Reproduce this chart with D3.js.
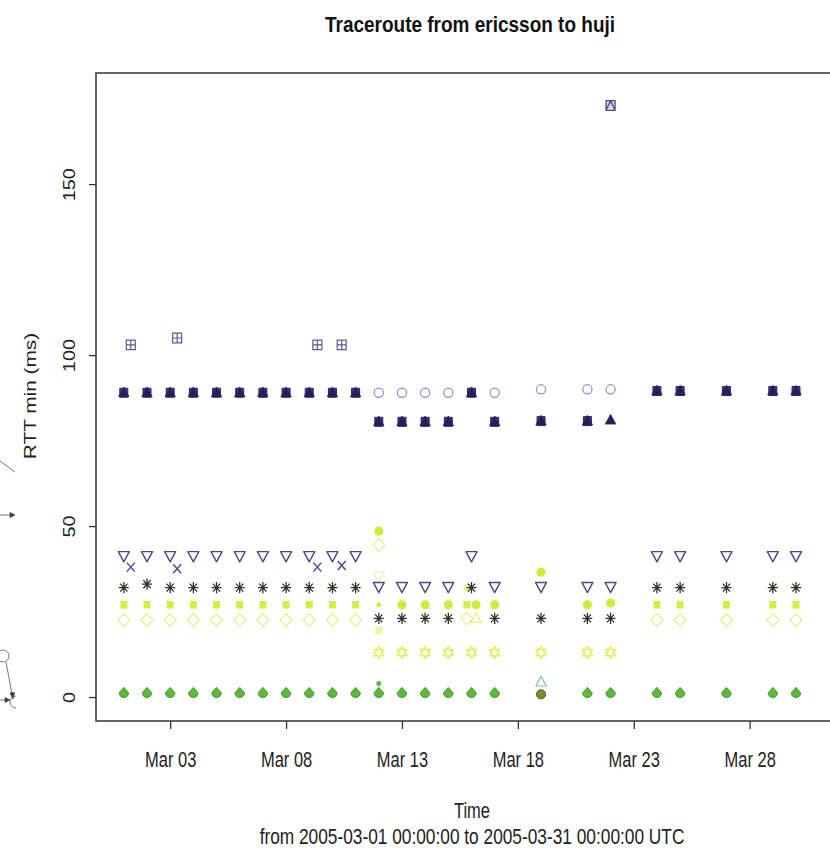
<!doctype html>
<html lang="en">
<head>
<meta charset="UTF-8">
<title>Traceroute from ericsson to huji</title>
<script src="https://d3js.org/d3.v7.min.js"></script>
<style>
  body { margin: 0; padding: 0; background: #fff; }
  svg { display: block; font-family: "Liberation Sans", Arial, sans-serif; }
  .tick text { fill: #222; }
  .tick line { stroke: #333; stroke-width: 1.3; }
</style>
</head>
<body>
<div id="chart"></div>
<script>
// ---- data (day of March 2005, RTT min in ms) ----
const days = [1, 2, 3, 4, 5, 6, 7, 8, 9, 10, 11, 12, 13, 14, 15, 16, 17, 19, 21, 22, 24, 25, 27, 29, 30];

const navySquare   = [89, 89, 89, 89, 89, 89, 89, 89, 89, 89, 89, 80.5, 80.5, 80.5, 80.5, 89, 80.5, 80.7, 80.7, null, 89.5, 89.5, 89.5, 89.5, 89.5];
const navyTriangle = [89, 89, 89, 89, 89, 89, 89, 89, 89, 89, 89, 80.5, 80.5, 80.5, 80.5, 89, 80.5, 80.7, 80.7, 81, 89.5, 89.5, 89.5, 89.5, 89.5];
const lavCircle    = [null, null, null, null, null, null, null, null, null, null, null, 89, 89, 89, 89, null, 89, 90, 90, 90, null, null, null, null, null];
const downTri      = [41, 41, 41, 41, 41, 41, 41, 41, 41, 41, 41, 32, 32, 32, 32, 41, 32, 32, 32, 32, 41, 41, 41, 41, 41];
const asterisk     = [32, 33, 32, 32, 32, 32, 32, 32, 32, 32, 32, 23, 23, 23, 23, 32, 23, 23, 23, 23, 32, 32, 32, 32, 32];
const hourglass    = [null, null, null, null, null, null, null, null, null, null, null, 13, 13, 13, 13, 13, 13, 13, 13, 13, null, null, null, null, null];
const greenCircle  = [0.8, 0.8, 0.8, 0.8, 0.8, 0.8, 0.8, 0.8, 0.8, 0.8, 0.8, 0.8, 0.8, 0.8, 0.8, 0.8, 0.8, null, 0.8, 0.8, 0.8, 0.8, 0.8, 0.8, 0.8];

// samples that sit between the daily columns: [day, value]
const ygSquare  = [[1, 27], [2, 27], [3, 27], [4, 27], [5, 27], [6, 27], [7, 27], [8, 27], [9, 27], [10, 27], [11, 27],
                   [15.8, 27], [24, 27], [25, 27], [27, 27], [29, 27], [30, 27]];
const ygCircle  = [[12, 48.5], [13, 27], [14, 27], [15, 27], [16.2, 27], [17, 27], [19, 36.5], [21, 27], [22, 27.5]];
const ygDot     = [[12, 27]];
const paleDiamond = [[1, 22.5], [2, 22.5], [3, 22.5], [4, 22.5], [5, 22.5], [6, 22.5], [7, 22.5], [8, 22.5], [9, 22.5], [10, 22.5], [11, 22.5],
                     [12, 44.5], [15.8, 23], [24, 22.5], [25, 22.5], [27, 22.5], [29, 22.5], [30, 22.5]];
const paleTriUp   = [[16.2, 23]];
const paleTriDown = [[12, 35]];
const paleSquare  = [[12, 19.5], [15.8, 32]];
const sqPlus      = [[1.3, 103], [3.3, 105], [9.35, 103], [10.4, 103]];
const crossX      = [[1.3, 38], [3.3, 37.5], [9.35, 38], [10.4, 38.5]];
const sqTriOpen   = [[22, 173]];
const greenDot    = [[12, 4]];
const tealTriUp   = [[19, 4.4]];
const oliveCircle = [[19, 0.8]];

const xTicks = [3, 8, 13, 18, 23, 28];
const yTicks = [0, 50, 100, 150];

// ---- layout ----
const width = 830, height = 848;
const plot = { left: 96, right: 847, top: 73, bottom: 721 };
const stretch = 1.3;   // the picture's lettering is taller than it is wide

const toDate = (d) => new Date(Date.UTC(2005, 2, 1) + (d - 1) * 864e5);

const x = d3.scaleUtc()
  .domain([toDate(1 - 1.2), toDate(31 + 1.2)])
  .range([plot.left, plot.right]);

const y = d3.scaleLinear()
  .domain([-7, 182.5])
  .range([plot.bottom, plot.top]);

const svg = d3.select('#chart').append('svg')
  .attr('width', width)
  .attr('height', height);

// symbol shapes, roughly R's pch set
const circlePath = (r) => 'M' + r + ',0A' + r + ',' + r + ' 0 1,1 ' + (-r) + ',0A' + r + ',' + r + ' 0 1,1 ' + r + ',0Z';
const shapes = {
  square: 'M-4,-4.5H4V4.5H-4Z',
  smallSquare: 'M-3.5,-3.8H3.5V3.8H-3.5Z',
  triUp: 'M0,-5.8L5.2,4H-5.2Z',
  triDown: 'M0,5L-5.5,-5.2H5.5Z',
  circle: circlePath(4.6),
  dot: circlePath(2.5),
  diamond: 'M0,-6.5L6,0L0,6.5L-6,0Z',
  cross: 'M-4,-4.5L4,4.5M4,-4.5L-4,4.5',
  asterisk: 'M-5,0H5M0,-5.6V5.6M-3.6,-4L3.6,4M3.6,-4L-3.6,4',
  sqPlus: 'M-4.5,-4.8H4.5V4.8H-4.5ZM0,-4.8V4.8M-4.5,0H4.5',
  sqTri: 'M-4.5,-4.8H4.5V4.8H-4.5ZM0,-4.8L4.5,4.8H-4.5Z',
  david: 'M0,-6.2L5.2,3.2H-5.2ZM0,6.2L-5.2,-3.2H5.2Z',
  greenDrop: 'M0,-7L4.8,-1.5A4.8,4.8 0 1,1 -4.8,-1.5Z'
};

const aligned = (vals) => days.map((d, i) => [d, vals[i]]).filter((p) => p[1] != null);

// draw order follows the hops, navy on top
const layers = [
  { data: aligned(greenCircle), shape: 'greenDrop', fill: '#5db83b', stroke: '#3d8c2a', sw: 0.8 },
  { data: oliveCircle, shape: 'circle', fill: '#7d8a38', stroke: '#5b5f2a', sw: 1 },
  { data: greenDot, shape: 'dot', fill: '#5db83b', stroke: 'none' },
  { data: tealTriUp, shape: 'triUp', fill: 'none', stroke: '#7cc6a4', sw: 1.2 },
  { data: aligned(hourglass), shape: 'david', fill: 'none', stroke: '#e0ef5e', sw: 1.3 },
  { data: paleDiamond, shape: 'diamond', fill: 'none', stroke: '#e3ef8c', sw: 1.3 },
  { data: paleTriUp, shape: 'triUp', fill: 'none', stroke: '#e3ef8c', sw: 1.3 },
  { data: paleTriDown, shape: 'triDown', fill: 'none', stroke: '#ecf3b0', sw: 1.2 },
  { data: paleSquare, shape: 'smallSquare', fill: '#eef5a8', stroke: 'none' },
  { data: ygSquare, shape: 'smallSquare', fill: '#d6ee44', stroke: 'none' },
  { data: ygCircle, shape: 'circle', fill: '#cfec3c', stroke: 'none' },
  { data: ygDot, shape: 'dot', fill: '#cfec3c', stroke: 'none' },
  { data: aligned(asterisk), shape: 'asterisk', fill: 'none', stroke: '#2c3328', sw: 1.3 },
  { data: aligned(downTri), shape: 'triDown', fill: 'none', stroke: '#4b4882', sw: 1.4 },
  { data: crossX, shape: 'cross', fill: 'none', stroke: '#474585', sw: 1.4 },
  { data: sqPlus, shape: 'sqPlus', fill: 'none', stroke: '#5c5a98', sw: 1.2 },
  { data: sqTriOpen, shape: 'sqTri', fill: '#d8d8ee', stroke: '#4c4a8c', sw: 1.3 },
  { data: aligned(lavCircle), shape: 'circle', fill: 'none', stroke: '#8e8ec8', sw: 1.2 },
  { data: aligned(navySquare), shape: 'square', fill: '#3d3a7c', stroke: '#2a2766', sw: 1 },
  { data: aligned(navyTriangle), shape: 'triUp', fill: '#231f5c', stroke: '#2a2766', sw: 0.8 }
];

const marks = svg.append('g');
layers.forEach((layer) => {
  marks.append('g').selectAll('path')
    .data(layer.data)
    .enter().append('path')
    .attr('transform', (d) => 'translate(' + x(toDate(d[0])) + ',' + y(d[1]) + ')')
    .attr('d', shapes[layer.shape])
    .attr('fill', layer.fill)
    .attr('stroke', layer.stroke)
    .attr('stroke-width', layer.sw || 1)
    .attr('stroke-linejoin', 'round');
});

// plot box
svg.append('rect')
  .attr('x', plot.left)
  .attr('y', plot.top)
  .attr('width', plot.right - plot.left)
  .attr('height', plot.bottom - plot.top)
  .attr('fill', 'none')
  .attr('stroke', '#333')
  .attr('stroke-width', 1.5);

// x axis
const xAxis = svg.append('g')
  .attr('transform', 'translate(0,' + plot.bottom + ')')
  .call(d3.axisBottom(x)
    .tickValues(xTicks.map(toDate))
    .tickFormat(d3.utcFormat('%b %d'))
    .tickSize(8)
    .tickSizeOuter(0));
xAxis.select('.domain').remove();
xAxis.selectAll('.tick text')
  .attr('y', null)
  .attr('dy', null)
  .attr('font-size', 16.5)
  .attr('transform', 'translate(0,46) scale(1,' + stretch + ')');

// y axis, labels turned parallel to the axis
const yAxis = svg.append('g')
  .attr('transform', 'translate(' + plot.left + ',0)')
  .call(d3.axisLeft(y).tickValues(yTicks).tickSize(7).tickSizeOuter(0));
yAxis.select('.domain').remove();
yAxis.selectAll('.tick text')
  .attr('x', null)
  .attr('dy', null)
  .attr('font-size', 16.5)
  .attr('text-anchor', 'middle')
  .attr('transform', 'translate(-21,0) rotate(-90) scale(1.2,1)');

// titles
svg.append('text')
  .attr('transform', 'translate(470,32) scale(1,1.2)')
  .attr('text-anchor', 'middle')
  .attr('font-size', 19).attr('font-weight', 'bold')
  .attr('fill', '#111')
  .text('Traceroute from ericsson to huji');

svg.append('text')
  .attr('transform', 'translate(36,396) rotate(-90) scale(' + stretch + ',1)')
  .attr('text-anchor', 'middle')
  .attr('font-size', 16).attr('fill', '#222')
  .text('RTT min (ms)');

svg.append('text')
  .attr('transform', 'translate(472,818) scale(1,' + stretch + ')')
  .attr('text-anchor', 'middle')
  .attr('font-size', 16.5).attr('fill', '#222')
  .text('Time');

svg.append('text')
  .attr('transform', 'translate(472,844) scale(1,' + stretch + ')')
  .attr('text-anchor', 'middle')
  .attr('font-size', 17.3).attr('fill', '#222')
  .text('from 2005-03-01 00:00:00 to 2005-03-31 00:00:00 UTC');

// scrap of a diagram at the left page edge
const scrap = svg.append('g').attr('stroke', '#555').attr('stroke-width', 0.8).attr('fill', 'none');
scrap.append('path').attr('d', 'M0,461L15,472');
scrap.append('path').attr('d', 'M0,515H10');
scrap.append('path').attr('d', 'M10,512.5L15,515L10,517.5Z').attr('fill', '#333');
scrap.append('path').attr('d', circlePath(6)).attr('transform', 'translate(3,656)');
scrap.append('path').attr('d', 'M6,662L12,694');
scrap.append('path').attr('d', 'M10,693L13,699L14.5,692.5Z').attr('fill', '#333');
scrap.append('path').attr('d', 'M16,696A6,6 0 0,0 16,708');
scrap.append('path').attr('d', 'M0,700H6');
scrap.append('path').attr('d', 'M5,697.5L10,700L5,702.5Z').attr('fill', '#333');
</script>
</body>
</html>
